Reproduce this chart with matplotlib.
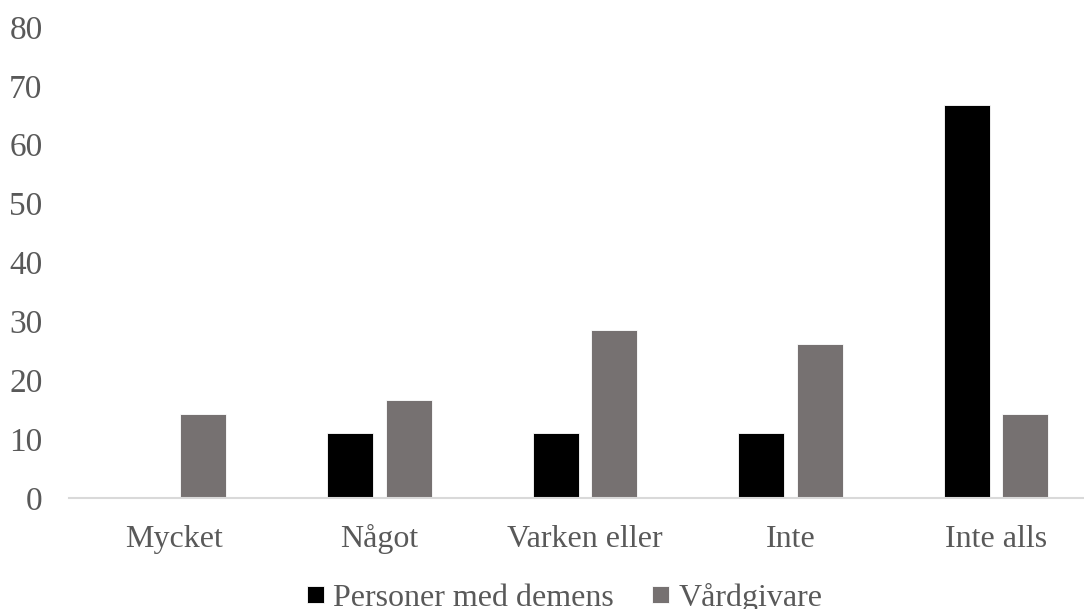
import matplotlib
matplotlib.use("Agg")
import matplotlib.pyplot as plt
import numpy as np

categories = ["Mycket", "Något", "Varken eller", "Inte", "Inte alls"]
series_names = ["Personer med demens", "Vårdgivare"]
personer = [0.0, 11.1, 11.1, 11.1, 66.7]
vardgivare = [14.3, 16.7, 28.6, 26.2, 14.3]
y_ticks = [0, 10, 20, 30, 40, 50, 60, 70, 80]

text_color = "#595959"
colors = ["#000000", "#767171"]

plt.rcParams["font.family"] = ["Liberation Serif", "DejaVu Serif"]

W, H = 1084, 609
fig = plt.figure(figsize=(W / 100, H / 100), dpi=100)
left, right, bottom, top = 69, 1084, 498, 27
ax = fig.add_axes([left / W, (H - bottom) / H, (right - left) / W, (bottom - top) / H])

x = np.arange(len(categories))
width = 0.224
offset = 0.142
ax.bar(x - offset, personer, width, color=colors[0], edgecolor="white",
       linewidth=0.6, label=series_names[0], zorder=2)
ax.bar(x + offset, vardgivare, width, color=colors[1], edgecolor="white",
       linewidth=0.6, label=series_names[1], zorder=2)

ax.set_xlim(-0.511, 4.428)
ax.set_ylim(0, 80)
ax.set_yticks(y_ticks)
ax.set_xticks(x)
ax.set_xticklabels(categories, va="baseline")

for s in ["top", "right", "left"]:
    ax.spines[s].set_visible(False)
ax.spines["bottom"].set_color("#d9d9d9")
ax.spines["bottom"].set_linewidth(1.5)
ax.spines["bottom"].set_zorder(3)

ax.tick_params(axis="y", length=0, pad=19, labelsize=24, labelcolor=text_color)
ax.tick_params(axis="x", length=0, pad=35, labelsize=23, labelcolor=text_color)

leg = fig.legend(loc="lower center", bbox_to_anchor=(0.521, -0.028), ncol=2,
                 frameon=False, fontsize=23, handlelength=0.52, handleheight=0.45,
                 handletextpad=0.3, columnspacing=1.2, borderaxespad=0)
for t in leg.get_texts():
    t.set_color(text_color)

fig.savefig("out.png", dpi=100)
